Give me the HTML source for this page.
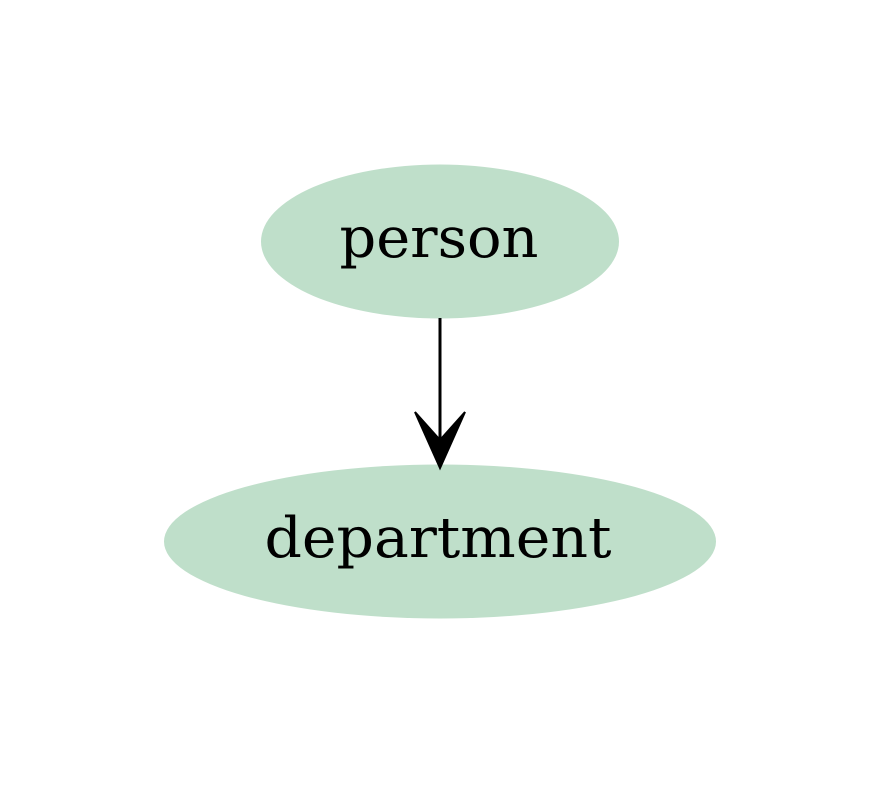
<!DOCTYPE html>
<html><head><style>html,body{margin:0;padding:0;background:#fff;}</style></head>
<body>
<svg width="880" height="784" viewBox="0 0 880 784" xmlns="http://www.w3.org/2000/svg">
<rect width="880" height="784" fill="#fff"/>
<ellipse cx="440" cy="241.5" rx="179" ry="77" fill="#bfdfca"/>
<text x="439" y="257" text-anchor="middle" font-family="DejaVu Serif, serif" font-size="56" textLength="199" lengthAdjust="spacingAndGlyphs" fill="#000">person</text>
<ellipse cx="440" cy="541.5" rx="276" ry="77" fill="#bfdfca"/>
<text x="438" y="557" text-anchor="middle" font-family="DejaVu Serif, serif" font-size="56" textLength="347" lengthAdjust="spacingAndGlyphs" fill="#000">department</text>
<line x1="440" y1="318" x2="440" y2="445" stroke="#000" stroke-width="3"/>
<path d="M440,468 L415,412 L440,440 L465,412 Z" fill="#000" stroke="#000" stroke-width="2" stroke-linejoin="miter"/>
</svg>
</body></html>
